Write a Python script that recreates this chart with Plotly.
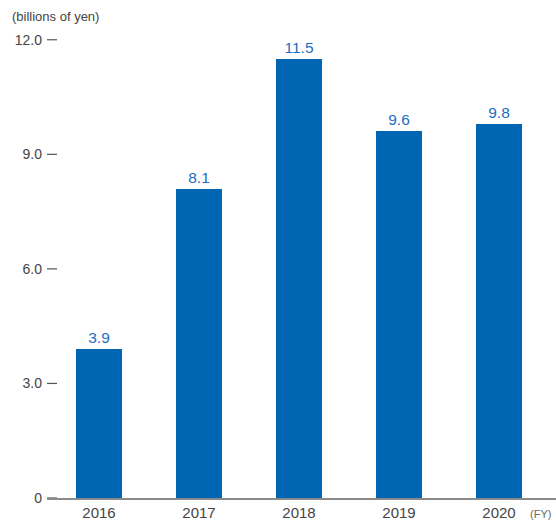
import plotly.graph_objects as go

years = ["2016", "2017", "2018", "2019", "2020"]
values = [3.9, 8.1, 11.5, 9.6, 9.8]
ytick_vals = [0, 3, 6, 9, 12]
ytick_text = ["0", "3.0", "6.0", "9.0", "12.0"]

FONT = "Liberation Sans, Arial, sans-serif"
PLOT_W = 556 - 47

fig = go.Figure()
fig.add_trace(go.Bar(
    x=list(range(len(years))),
    y=values,
    width=0.46,
    marker=dict(color="#0066B3", line=dict(width=0)),
    text=[f"{v:.1f}" for v in values],
    textposition="outside",
    textfont=dict(color="#1C6EBF", size=15.5, family=FONT),
    cliponaxis=False,
))

# short tick dashes to the right of each y label
for v in ytick_vals:
    fig.add_shape(type="line", xref="paper", yref="y",
                  x0=0, x1=10 / PLOT_W, y0=v, y1=v,
                  line=dict(color="#555555", width=1.2), layer="above")

fig.update_layout(
    width=556, height=522,
    margin=dict(l=47, r=0, t=39, b=24),
    paper_bgcolor="white", plot_bgcolor="white",
    showlegend=False,
    bargap=0,
    xaxis=dict(
        range=[-0.52, 4.57],
        tickmode="array",
        tickvals=list(range(len(years))),
        ticktext=years,
        showline=True, linecolor="#8a8a8a", linewidth=1.5,
        showgrid=False, zeroline=False, ticks="",
        tickfont=dict(size=15, color="#444444", family=FONT),
        fixedrange=True,
    ),
    yaxis=dict(
        range=[0, 12.02],
        tickmode="array",
        tickvals=ytick_vals,
        ticktext=ytick_text,
        showline=False, showgrid=False, zeroline=False,
        ticks="",
        tickfont=dict(size=14, color="#444444", family=FONT),
        ticklabelstandoff=4,
        fixedrange=True,
    ),
    annotations=[
        dict(text="(billions of yen)", xref="paper", yref="paper",
             x=-47/PLOT_W, y=1 + 23/459, xanchor="left", yanchor="middle",
             xshift=10, showarrow=False,
             font=dict(size=13, color="#444444", family=FONT)),
        dict(text="(FY)", xref="paper", yref="paper",
             x=1, y=0, xanchor="right", yanchor="top", yshift=-8,
             xshift=-3, showarrow=False,
             font=dict(size=11, color="#666666", family=FONT)),
    ],
)

fig.write_html("out.html")
